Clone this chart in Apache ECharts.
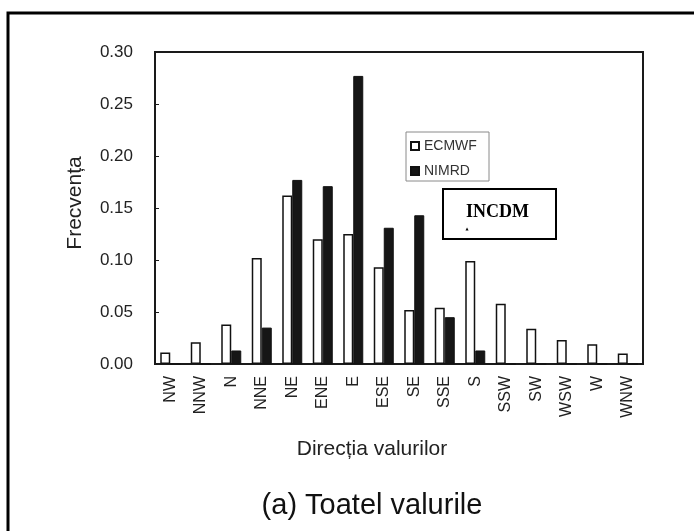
<!DOCTYPE html>
<html>
<head>
<meta charset="utf-8">
<script src="https://cdn.jsdelivr.net/npm/echarts@6/dist/echarts.min.js"></script>
<style>
    html, body { margin: 0; padding: 0; background: #fff; }
    #chart { width: 694px; height: 531px; }
</style>
</head>
<body>
<div id="chart"></div>
<script>
// date
var directii = ["NW", "NNW", "N", "NNE", "NE", "ENE", "E", "ESE", "SE", "SSE", "S", "SSW", "SW", "WSW", "W", "WNW"];
var ecmwf = [0.011, 0.021, 0.038, 0.102, 0.162, 0.120, 0.125, 0.093, 0.052, 0.054, 0.099, 0.058, 0.034, 0.023, 0.019, 0.010];
var nimrd = [0, 0, 0.013, 0.035, 0.177, 0.171, 0.277, 0.131, 0.143, 0.045, 0.013, 0, 0, 0, 0, 0];
var yTicks = [0, 0.05, 0.10, 0.15, 0.20, 0.25, 0.30];

var font = "Liberation Sans";
var chart = echarts.init(document.getElementById("chart"));

var option = {
    animation: false,
    textStyle: { fontFamily: font, color: "#222" },
    grid: {
        left: 155,
        right: 51,
        top: 52,
        bottom: 167,
        show: true,
        borderColor: "#1a1a1a",
        borderWidth: 2,
        containLabel: false
    },
    legend: {
        orient: "vertical",
        left: 410,
        top: 139,
        padding: 0,
        itemGap: 11,
        itemWidth: 8,
        itemHeight: 8,
        itemTextGap: 4,
        icon: "rect",
        textStyle: { fontSize: 14, color: "#333", fontFamily: font },
        data: ["ECMWF", "NIMRD"]
    },
    xAxis: {
        type: "category",
        data: directii,
        axisLine: { lineStyle: { color: "#1a1a1a", width: 2 } },
        axisTick: { inside: true, length: 4, lineStyle: { color: "#1a1a1a" } },
        axisLabel: {
            rotate: 90,
            interval: 0,
            margin: 12,
            fontSize: 16,
            color: "#222"
        }
    },
    yAxis: {
        type: "value",
        min: 0,
        max: yTicks[yTicks.length - 1],
        interval: 0.05,
        axisLine: { show: true, lineStyle: { color: "#1a1a1a", width: 2 } },
        axisTick: { show: true, inside: true, length: 4, lineStyle: { color: "#1a1a1a" } },
        splitLine: { show: false },
        axisLabel: {
            margin: 22,
            fontSize: 17,
            color: "#222",
            formatter: function (v) { return v.toFixed(2); }
        }
    },
    series: [
        {
            name: "ECMWF",
            type: "bar",
            barWidth: 10,
            barGap: "0%",
            itemStyle: { color: "#fff", borderColor: "#111", borderWidth: 1.5 },
            data: ecmwf
        },
        {
            name: "NIMRD",
            type: "bar",
            barWidth: 10,
            itemStyle: { color: "#161616", borderColor: "#111", borderWidth: 1 },
            data: nimrd
        }
    ],
    graphic: [
        // cadrul exterior (stanga si sus)
        {
            type: "polyline",
            shape: { points: [[8, 531], [8, 13], [694, 13]] },
            style: { stroke: "#000", lineWidth: 3, fill: null }
        },
        // caseta legendei
        {
            type: "rect",
            shape: { x: 406, y: 132, width: 83, height: 49 },
            style: { stroke: "#8a8a8a", lineWidth: 1, fill: null },
            z: 1
        },
        // caseta INCDM
        {
            type: "rect",
            shape: { x: 443, y: 189, width: 113, height: 50 },
            style: { stroke: "#000", lineWidth: 2, fill: "#fff" },
            z: 10
        },
        {
            type: "text",
            x: 466, y: 212,
            style: { text: "INCDM", font: "bold 18px 'Liberation Serif'", fill: "#000", textVerticalAlign: "middle" },
            z: 11
        },
        {
            type: "text",
            x: 467, y: 229,
            style: { text: "▲", font: "4px 'DejaVu Sans'", fill: "#000", textAlign: "center", textVerticalAlign: "middle" },
            z: 11
        },
        {
            type: "text",
            x: 75, y: 203,
            rotation: Math.PI / 2,
            style: { text: "Frecvența", font: "21px 'Liberation Sans'", fill: "#222", textAlign: "center", textVerticalAlign: "middle" }
        },
        {
            type: "text",
            x: 372, y: 449,
            style: { text: "Direcția valurilor", font: "21px 'Liberation Sans'", fill: "#222", textAlign: "center", textVerticalAlign: "middle" }
        },
        {
            type: "text",
            x: 372, y: 506,
            style: { text: "(a) Toatel valurile", font: "29px 'Liberation Sans'", fill: "#111", textAlign: "center", textVerticalAlign: "middle" }
        }
    ]
};

chart.setOption(option);
</script>
</body>
</html>
